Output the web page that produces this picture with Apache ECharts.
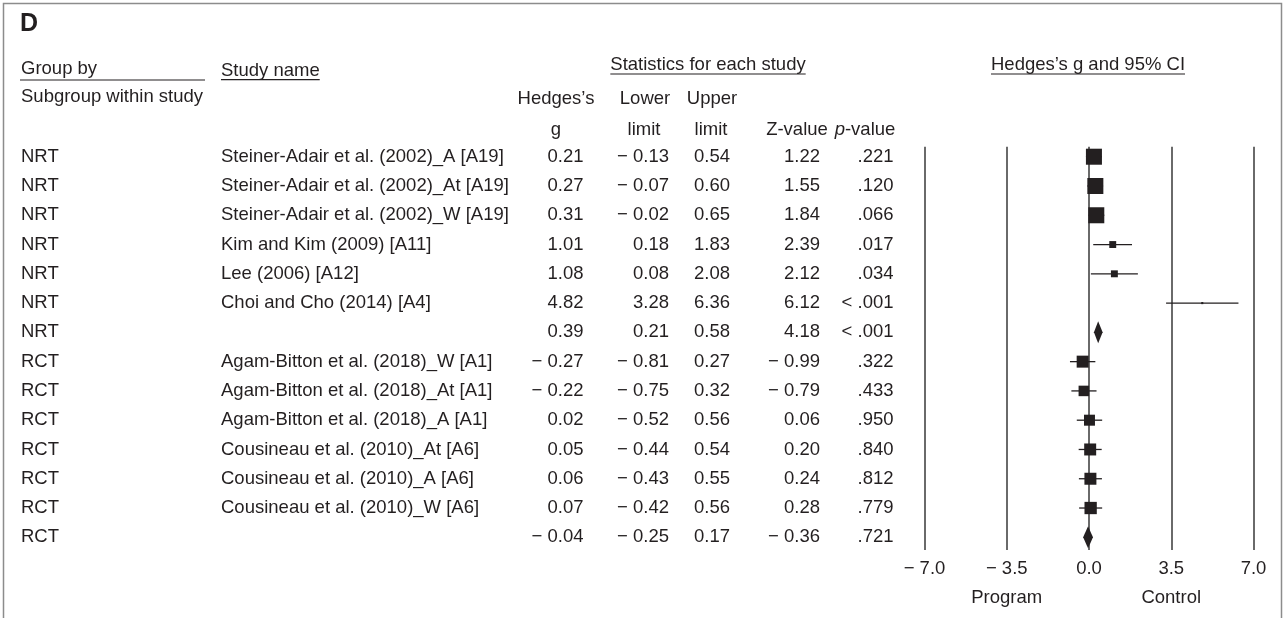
<!DOCTYPE html>
<html><head><meta charset="utf-8">
<script src="https://cdn.jsdelivr.net/npm/echarts@6/dist/echarts.min.js"></script>
<style>html,body{margin:0;padding:0;background:#fff}#c{width:1283px;height:618px}</style>
</head><body><div id="c"></div>
<script>
// ---- data ----
const groups = ['NRT','NRT','NRT','NRT','NRT','NRT','NRT','RCT','RCT','RCT','RCT','RCT','RCT','RCT'];
const studies = [
  'Steiner-Adair et al. (2002)_A [A19]',
  'Steiner-Adair et al. (2002)_At [A19]',
  'Steiner-Adair et al. (2002)_W [A19]',
  'Kim and Kim (2009) [A11]',
  'Lee (2006) [A12]',
  'Choi and Cho (2014) [A4]',
  '',
  'Agam-Bitton et al. (2018)_W [A1]',
  'Agam-Bitton et al. (2018)_At [A1]',
  'Agam-Bitton et al. (2018)_A [A1]',
  'Cousineau et al. (2010)_At [A6]',
  'Cousineau et al. (2010)_A [A6]',
  'Cousineau et al. (2010)_W [A6]',
  ''
];
const hedgesG   = [0.21, 0.27, 0.31, 1.01, 1.08, 4.82, 0.39, -0.27, -0.22, 0.02, 0.05, 0.06, 0.07, -0.04];
const lowerLim  = [-0.13, -0.07, -0.02, 0.18, 0.08, 3.28, 0.21, -0.81, -0.75, -0.52, -0.44, -0.43, -0.42, -0.25];
const upperLim  = [0.54, 0.60, 0.65, 1.83, 2.08, 6.36, 0.58, 0.27, 0.32, 0.56, 0.54, 0.55, 0.56, 0.17];
const zValues   = [1.22, 1.55, 1.84, 2.39, 2.12, 6.12, 4.18, -0.99, -0.79, 0.06, 0.20, 0.24, 0.28, -0.36];
const pValues   = ['.221', '.120', '.066', '.017', '.034', '< .001', '< .001', '.322', '.433', '.950', '.840', '.812', '.779', '.721'];
const isSummary = [false, false, false, false, false, false, true, false, false, false, false, false, false, true];
// relative weight (%) within subgroup, estimated from square sizes
const weights   = [29.5, 29.5, 29.5, 5.5, 5.5, 0.5, null, 16.5, 12.7, 13.9, 16.5, 16.5, 17.4, null];
const axisMin = -7, axisMax = 7, axisStep = 3.5;
const leftLabel = 'Program', rightLabel = 'Control';

// ---- styling ----
const FONT = '"Liberation Sans", Arial, Helvetica, sans-serif';
const FS = 18.5;
const INK = '#231f20';
const font = (w) => (w || 'normal') + ' ' + FS + 'px ' + FONT;
const fmtNum = (v, d) => (v < 0 ? '\u2212 ' : '') + Math.abs(v).toFixed(d);

const mctx = document.createElement('canvas').getContext('2d');
function textW(t, f) { mctx.font = f; return mctx.measureText(t).width; }

const rows = groups.map((g, i) => i + 1);

const chart = echarts.init(document.getElementById('c'), null, { renderer: 'canvas' });

const colRight = { g: 583.5, lo: 669, up: 730, z: 820, p: 893.5 };

function txt(x, y, text, align, extra) {
  return Object.assign({
    type: 'text',
    style: Object.assign({ text: text, x: x, y: y, fill: INK, font: font(), align: align || 'left', verticalAlign: 'middle' }, extra || {})
  });
}
function uline(x1, x2, y) {
  return { type: 'line', shape: { x1: x1, y1: y, x2: x2, y2: y }, style: { stroke: INK, lineWidth: 1.2 } };
}

const statTitle = 'Statistics for each study';
const ciTitle = 'Hedges\u2019s g and 95% CI';
const statW = textW(statTitle, font());
const ciW = textW(ciTitle, font());
const studyW = textW('Study name', font());

const graphics = [
  { type: 'polyline', shape: { points: [[3.5, 618], [3.5, 3.5], [1281.5, 3.5], [1281.5, 618]] }, style: { stroke: '#8c8c8c', lineWidth: 1.5, fill: null } },
  txt(20, 24, 'D', 'left', { font: 'bold 25px ' + FONT }),
  txt(21, 68.6, 'Group by'),
  uline(20, 205, 80),
  txt(21, 96.6, 'Subgroup within study'),
  txt(221, 71, 'Study name'),
  uline(221, 221 + studyW, 79.7),
  txt(708, 65.3, statTitle, 'center'),
  uline(708 - statW / 2, 708 + statW / 2, 74),
  txt(1088, 65.3, ciTitle, 'center'),
  uline(1088 - ciW / 2, 1088 + ciW / 2, 74),
  txt(556, 98.6, 'Hedges\u2019s', 'center'),
  txt(556, 129.6, 'g', 'center'),
  txt(645, 98.6, 'Lower', 'center'),
  txt(644, 129.6, 'limit', 'center'),
  txt(712, 98.6, 'Upper', 'center'),
  txt(711, 129.6, 'limit', 'center'),
  txt(797, 129.6, 'Z-value', 'center'),
  txt(865, 129.6, '{i|p}-value', 'center', { rich: { i: { fontStyle: 'italic', fontSize: FS, fontFamily: FONT, fill: INK } } })
];

const option = {
  animation: false,
  backgroundColor: '#fff',
  grid: { left: 924.5, right: 29.5, top: 146.7, bottom: 68, containLabel: false },
  xAxis: {
    type: 'value', min: axisMin, max: axisMax, interval: axisStep,
    axisLine: { show: false }, axisTick: { show: false },
    axisLabel: { margin: 9, color: INK, fontSize: FS, fontFamily: FONT, formatter: v => fmtNum(v, 1) },
    splitLine: { show: true, showMinLine: true, showMaxLine: true, lineStyle: { color: '#454545', width: 1.6 } }
  },
  yAxis: { type: 'value', inverse: true, min: 0.658, max: 14.434, show: false, splitLine: { show: false } },
  graphic: graphics,
  series: [
    { // table text
      type: 'custom', silent: true, clip: false, z: 5,
      data: rows.map(r => [0, r]),
      encode: { x: 0, y: 1 },
      renderItem: function (params, api) {
        const i = params.dataIndex;
        const y = api.coord([0, api.value(1)])[1];
        const c = [];
        const t = (x, s, a) => c.push({ type: 'text', style: { text: s, x: x, y: y, fill: INK, font: font(), align: a, verticalAlign: 'middle' } });
        t(21, groups[i], 'left');
        if (studies[i]) t(221, studies[i], 'left');
        t(colRight.g, fmtNum(hedgesG[i], 2), 'right');
        t(colRight.lo, fmtNum(lowerLim[i], 2), 'right');
        t(colRight.up, fmtNum(upperLim[i], 2), 'right');
        t(colRight.z, fmtNum(zValues[i], 2), 'right');
        t(colRight.p, pValues[i], 'right');
        return { type: 'group', children: c };
      }
    },
    { // CI whiskers
      type: 'custom', silent: true, z: 3,
      data: rows.filter((r, i) => !isSummary[i]).map(r => [lowerLim[r - 1], upperLim[r - 1], r]),
      encode: { x: [0, 1], y: 2 },
      renderItem: function (params, api) {
        const a = api.coord([api.value(0), api.value(2)]);
        const b = api.coord([api.value(1), api.value(2)]);
        return { type: 'line', shape: { x1: a[0], y1: a[1], x2: b[0], y2: b[1] }, style: { stroke: INK, lineWidth: 1.3 } };
      }
    },
    { // study squares
      type: 'scatter', silent: true, z: 4, symbol: 'rect',
      data: rows.filter((r, i) => !isSummary[i]).map(r => ({ value: [hedgesG[r - 1], r], w: weights[r - 1] })),
      symbolSize: function (val, params) { return Math.sqrt(weights[val[1] - 1]) * 2.95; },
      itemStyle: { color: INK, opacity: 1 }
    },
    { // subgroup summary diamonds
      type: 'custom', silent: true, z: 4,
      data: rows.filter((r, i) => isSummary[i]).map(r => [hedgesG[r - 1], lowerLim[r - 1], upperLim[r - 1], r]),
      encode: { x: [0, 1, 2], y: 3 },
      renderItem: function (params, api) {
        const r = api.value(3);
        const c = api.coord([api.value(0), r]);
        const l = api.coord([api.value(1), r]);
        const u = api.coord([api.value(2), r]);
        const h = 11;
        return { type: 'polygon', shape: { points: [[l[0], c[1]], [c[0], c[1] - h], [u[0], c[1]], [c[0], c[1] + h]] }, style: { fill: INK } };
      }
    }
  ]
};
chart.setOption(option);

// side labels under the axis, placed through the axis scale
const pL = chart.convertToPixel({ gridIndex: 0 }, [-axisStep, 1])[0];
const pR = chart.convertToPixel({ gridIndex: 0 }, [axisStep, 1])[0];
chart.setOption({
  graphic: graphics.concat([
    txt(pL, 597.5, leftLabel, 'center'),
    txt(pR, 597.5, rightLabel, 'center')
  ])
});
</script>
</body></html>
